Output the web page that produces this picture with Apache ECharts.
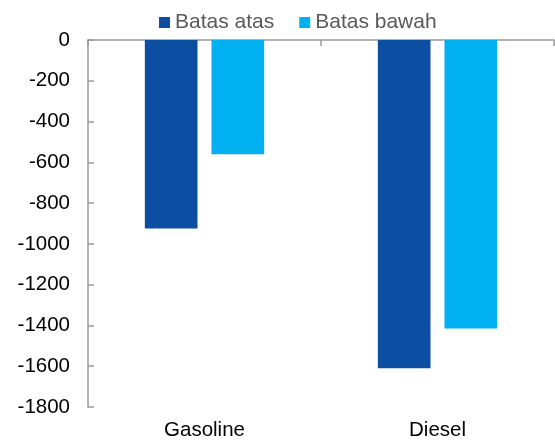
<!DOCTYPE html>
<html>
<head>
<meta charset="utf-8">
<script src="https://cdn.jsdelivr.net/npm/echarts@6/dist/echarts.min.js"></script>
<style>
html,body{margin:0;padding:0;background:#fff;}
#chart{width:555px;height:443px;}
</style>
</head>
<body>
<div id="chart"></div>
<script>
const categories = ["Gasoline", "Diesel"];
const seriesNames = ["Batas atas", "Batas bawah"];
const batasAtas = [-925, -1610];
const batasBawah = [-560, -1415];
const yTicks = { min: -1800, max: 0, interval: 200 };

const chart = echarts.init(document.getElementById('chart'), null, { renderer: 'canvas' });
const font = 'Liberation Sans, Arial, sans-serif';
chart.setOption({
  animation: false,
  backgroundColor: '#ffffff',
  legend: {
    data: seriesNames,
    left: 154,
    top: 7,
    itemWidth: 11,
    itemHeight: 11,
    itemGap: 25,
    icon: 'rect',
    textStyle: { fontFamily: font, fontSize: 21, color: '#595959' }
  },
  grid: { left: 88, right: 1, top: 40, bottom: 36, containLabel: false },
  xAxis: [
    {
      type: 'category',
      data: categories,
      position: 'top',
      axisLine: { show: true, lineStyle: { color: '#9a9a9a', width: 1.5 } },
      axisTick: { show: true, inside: true, length: 6, lineStyle: { color: '#9a9a9a', width: 1.5 } },
      axisLabel: { show: false },
      splitLine: { show: false }
    },
    {
      type: 'category',
      data: categories,
      position: 'bottom',
      axisLine: { show: false },
      axisTick: { show: false },
      axisLabel: { show: true, margin: 13, fontFamily: font, fontSize: 20.5, color: '#000000' },
      splitLine: { show: false }
    }
  ],
  yAxis: {
    type: 'value',
    min: yTicks.min,
    max: yTicks.max,
    interval: yTicks.interval,
    axisLine: { show: true, lineStyle: { color: '#9a9a9a', width: 1.5 } },
    axisTick: { show: true, inside: true, length: 6, lineStyle: { color: '#9a9a9a', width: 1.5 } },
    axisLabel: { margin: 18, fontFamily: font, fontSize: 20.5, color: '#000000', formatter: function (v) { return String(v); } },
    splitLine: { show: false }
  },
  series: [
    {
      name: seriesNames[0],
      type: 'bar',
      xAxisIndex: 0,
      data: batasAtas,
      barWidth: '22.6%',
      barGap: '26.6%',
      itemStyle: { color: '#0C4EA2' }
    },
    {
      name: seriesNames[1],
      type: 'bar',
      xAxisIndex: 0,
      data: batasBawah,
      barWidth: '22.6%',
      barGap: '26.6%',
      itemStyle: { color: '#00B0F0' }
    }
  ]
});
</script>
</body>
</html>
